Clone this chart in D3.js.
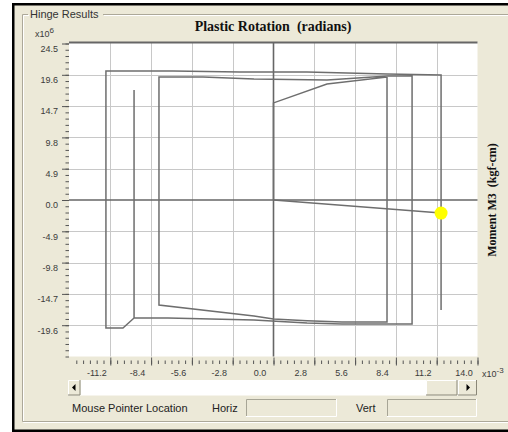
<!DOCTYPE html>
<html>
<head>
<meta charset="utf-8">
<script src="https://cdn.jsdelivr.net/npm/d3@7"></script>
<style>
  body { margin: 0; background: #fff; }
  svg { display: block; }
  text { white-space: pre; }
</style>
</head>
<body>
<div id="chart"></div>
<script>
// hinge result data: plastic rotation (x10^-3 rad) vs moment M3 (x10^6 kgf-cm)
const rotation = [0, 0, 3.67, 7.79, 7.79, 4.70, 2.30, 0, -1.34, -7.86,
  -7.86, -4.84, -1.34, 3.67, 7.86, 9.51, 9.51, 4.70, 2.30, -1.34, -7.24, -9.57,
  -9.57, -9.57, -10.33, -11.50, -11.50, -6.90, -2.30, 2.30, 7.79, 11.50, 11.50];
const moment = [0, 15.2, 18.16, 19.25, -19.10, -19.10, -18.90, -18.63, -18.16, -16.44,
  19.25, 19.25, 18.94, 18.78, 19.41, 19.41, -19.41, -19.41, -19.25, -18.79, -18.47, -18.47,
  17.22, -18.47, -20.04, -20.04, 20.19, 20.19, 20.04, 20.04, 19.72, 19.57, -17.22];

// current step (yellow marker) and the segment back to it
const currentRot = [0, 11.50];
const currentMom = [0, -2.04];

const rotTicks = [-11.2, -8.4, -5.6, -2.8, 0.0, 2.8, 5.6, 8.4, 11.2, 14.0];
const momTicks = [-19.6, -14.7, -9.8, -4.9, 0.0, 4.9, 9.8, 14.7, 19.6, 24.5];

const width = 508;
const height = 432;
const plot = { left: 69, right: 477.5, top: 42, bottom: 356.5 };
const bg = '#ECE9D8';
const uiFont = 'Liberation Sans, Arial, sans-serif';

const svg = d3.select('#chart').append('svg')
  .attr('width', width)
  .attr('height', height);

svg.append('rect').attr('width', width).attr('height', height).attr('fill', '#fff');

// dialog frame
svg.append('rect')
  .attr('x', 13.25).attr('y', 4.25)
  .attr('width', 520).attr('height', 426.5)
  .attr('fill', bg)
  .attr('stroke', '#000')
  .attr('stroke-width', 2.5);

// group box (etched)
const gb = 'M28,14.5 H22.5 V421.5 H510 M103,14.5 H510';
svg.append('path').attr('d', gb).attr('transform', 'translate(1,1)')
  .attr('fill', 'none').attr('stroke', '#fff');
svg.append('path').attr('d', gb)
  .attr('fill', 'none').attr('stroke', '#aca899');
svg.append('text')
  .attr('x', 30).attr('y', 18)
  .attr('font-family', uiFont).attr('font-size', 11)
  .attr('fill', '#333')
  .text('Hinge Results');

// titles
svg.append('text')
  .attr('x', 273).attr('y', 31)
  .attr('text-anchor', 'middle')
  .attr('font-family', 'Liberation Serif, Times New Roman, serif')
  .attr('font-weight', 'bold').attr('font-size', 14)
  .attr('fill', '#111')
  .text('Plastic Rotation  (radians)');

svg.append('text')
  .attr('transform', 'translate(496,200) rotate(-90)')
  .attr('text-anchor', 'middle')
  .attr('font-family', 'Liberation Serif, Times New Roman, serif')
  .attr('font-weight', 'bold').attr('font-size', 12)
  .attr('fill', '#111')
  .text('Moment M3  (kgf-cm)');

const x = d3.scaleLinear().domain([-14, 14]).range([69.5, 477.5]);
const y = d3.scaleLinear().domain([-24.5, 24.5]).range([356.5, 43.5]);

// plot area
svg.append('rect')
  .attr('x', plot.left).attr('y', plot.top)
  .attr('width', plot.right - plot.left).attr('height', plot.bottom - plot.top)
  .attr('fill', '#fff');

// grid
svg.append('g').selectAll('line')
  .data(rotTicks.filter(d => d < 14 && d !== 0))
  .join('line')
  .attr('x1', d => Math.round(x(d)) + 0.5).attr('x2', d => Math.round(x(d)) + 0.5)
  .attr('y1', plot.top).attr('y2', plot.bottom)
  .attr('stroke', '#c8c8c8');
svg.append('g').selectAll('line')
  .data(momTicks.filter(d => d < 24 && d !== 0))
  .join('line')
  .attr('y1', d => Math.round(y(d)) + 0.5).attr('y2', d => Math.round(y(d)) + 0.5)
  .attr('x1', plot.left).attr('x2', plot.right)
  .attr('stroke', '#c8c8c8');

// zero axes
svg.append('line')
  .attr('x1', x(0)).attr('x2', x(0)).attr('y1', plot.top).attr('y2', plot.bottom)
  .attr('stroke', '#666').attr('stroke-width', 1.6);
svg.append('line')
  .attr('x1', plot.left).attr('x2', plot.right).attr('y1', y(0)).attr('y2', y(0))
  .attr('stroke', '#666').attr('stroke-width', 1.6);

// top border line
svg.append('line')
  .attr('x1', plot.left).attr('x2', plot.right).attr('y1', 42.5).attr('y2', 42.5)
  .attr('stroke', '#666').attr('stroke-width', 2);

// hysteresis curve
const line = d3.line().x(d => x(d[0])).y(d => y(d[1]));
svg.append('path')
  .datum(d3.zip(rotation, moment))
  .attr('d', line)
  .attr('fill', 'none')
  .attr('stroke', '#6e6e6e')
  .attr('stroke-width', 1.5);
svg.append('path')
  .datum(d3.zip(currentRot, currentMom))
  .attr('d', line)
  .attr('fill', 'none')
  .attr('stroke', '#6e6e6e')
  .attr('stroke-width', 1.5);

svg.append('circle')
  .attr('cx', x(currentRot[1])).attr('cy', y(currentMom[1]))
  .attr('r', 6.5)
  .attr('fill', '#ffff00');

// y axis
const fmt = d => d.toFixed(1);
const yAxis = svg.append('g')
  .attr('transform', 'translate(69,0)')
  .call(d3.axisLeft(y).tickValues(momTicks).tickSize(7).tickPadding(4).tickFormat(fmt));
const yMinor = svg.append('g')
  .attr('transform', 'translate(69,0)')
  .call(d3.axisLeft(y).tickValues(d3.range(-24.5, 24.51, 0.98)).tickSize(3.5).tickFormat(''));
yAxis.selectAll('text').attr('y', 5);

// x axis
const xAxis = svg.append('g')
  .attr('transform', 'translate(0,357.5)')
  .call(d3.axisBottom(x).tickValues(rotTicks).tickSize(8).tickPadding(4).tickFormat(fmt));
const xMinor = svg.append('g')
  .attr('transform', 'translate(0,360.5)')
  .call(d3.axisBottom(x).tickValues(d3.range(-14 + 2.8 / 6, 14.01, 2.8 / 6)).tickSize(3.5).tickFormat(''));
xAxis.selectAll('text').attr('dx', -14);

[yAxis, yMinor, xAxis, xMinor].forEach(g => {
  g.select('.domain').remove();
  g.selectAll('line').attr('stroke', '#555');
  g.selectAll('text')
    .attr('font-family', uiFont).attr('font-size', 9)
    .attr('fill', '#3a3a3a');
});

// exponent labels
const e6 = svg.append('text')
  .attr('x', 35).attr('y', 37)
  .attr('font-family', uiFont).attr('font-size', 9).attr('fill', '#3a3a3a')
  .text('x10');
e6.append('tspan').attr('dy', -4).attr('font-size', 8).text('6');

const e3 = svg.append('text')
  .attr('x', 482).attr('y', 377)
  .attr('font-family', uiFont).attr('font-size', 9).attr('fill', '#3a3a3a')
  .text('x10');
e3.append('tspan').attr('dy', -4).attr('font-size', 8).text('-3');

// scrollbar
function raised(x0, y0, w, h) {
  svg.append('rect').attr('x', x0).attr('y', y0).attr('width', w).attr('height', h)
    .attr('fill', bg);
  svg.append('path')
    .attr('d', `M${x0 + 0.5},${y0 + h} V${y0 + 0.5} H${x0 + w}`)
    .attr('fill', 'none').attr('stroke', '#fff');
  svg.append('path')
    .attr('d', `M${x0},${y0 + h - 0.5} H${x0 + w - 0.5} V${y0}`)
    .attr('fill', 'none').attr('stroke', '#8a8778');
}
svg.append('rect').attr('x', 68).attr('y', 380).attr('width', 409).attr('height', 15.5)
  .attr('fill', '#fff');
raised(68, 380, 12.5, 15.5);
raised(426, 380, 31.5, 15.5);
raised(458, 380, 19, 15.5);
svg.append('path').attr('d', 'M72,387.5 L75.5,384 V391 Z').attr('fill', '#000');
svg.append('path').attr('d', 'M470,387.5 L466.5,384 V391 Z').attr('fill', '#000');

// pointer location fields
svg.append('text')
  .attr('x', 72).attr('y', 412)
  .attr('font-family', uiFont).attr('font-size', 11).attr('fill', '#222')
  .text('Mouse Pointer Location');
svg.append('text')
  .attr('x', 212).attr('y', 412)
  .attr('font-family', uiFont).attr('font-size', 11).attr('fill', '#222')
  .text('Horiz');
svg.append('text')
  .attr('x', 356).attr('y', 412)
  .attr('font-family', uiFont).attr('font-size', 11).attr('fill', '#222')
  .text('Vert');

function sunken(x0, y0, w, h) {
  svg.append('path')
    .attr('d', `M${x0 + 0.5},${y0 + h} V${y0 + 0.5} H${x0 + w}`)
    .attr('fill', 'none').attr('stroke', '#a7a596');
  svg.append('path')
    .attr('d', `M${x0},${y0 + h - 0.5} H${x0 + w - 0.5} V${y0}`)
    .attr('fill', 'none').attr('stroke', '#fff');
}
sunken(246, 399, 91, 18);
sunken(387, 399, 90, 18);
</script>
</body>
</html>
